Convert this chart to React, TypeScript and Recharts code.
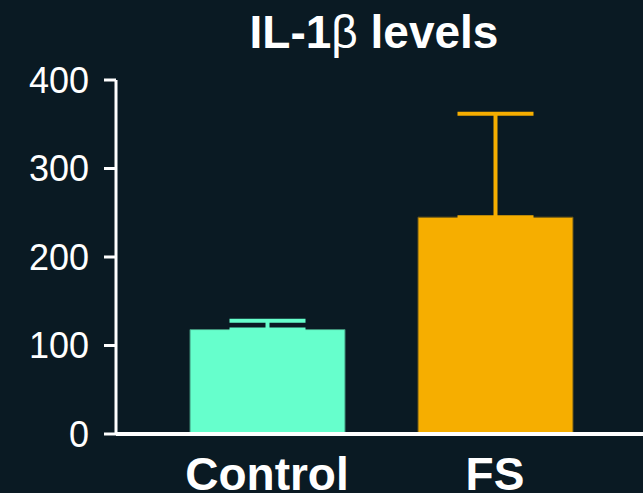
import React from 'react';
import { BarChart, Bar, XAxis, YAxis, ErrorBar, Cell } from 'recharts';

const categories = ['Control', 'FS'];
const means = [118, 245];
const sems = [10, 117];
const barColors = ['#66ffcc', '#f6ae00'];
const barOutlines = ['#3f8f78', '#6a5618'];
const yTicks = [0, 100, 200, 300, 400];
const errKeys = ['errC', 'errF'];

const data = categories.map((name, i) => {
  const row: any = { name, value: means[i] };
  row[errKeys[i]] = [0, sems[i]];
  return row;
});

const BG = '#0a1a23';
const FONT = '"Liberation Sans", Arial, Helvetica, sans-serif';

export default function App() {
  return (
    <div style={{ position: 'fixed', left: 0, top: 0, width: 643, height: 493, background: BG }}>
      <BarChart
        width={643}
        height={493}
        data={data}
        margin={{ top: 80, right: 0, bottom: 0, left: 0 }}
        style={{ fontFamily: FONT }}
      >
        <YAxis
          width={116}
          domain={[0, 400]}
          ticks={yTicks}
          allowDataOverflow
          axisLine={{ stroke: '#ffffff', strokeWidth: 3 }}
          tickLine={{ stroke: '#ffffff', strokeWidth: 3 }}
          tickSize={12}
          tickMargin={15}
          tick={{ fill: '#ffffff', fontSize: 36, fontFamily: FONT }}
        />
        <XAxis
          dataKey="name"
          height={59}
          padding={{ left: 37, right: 34 }}
          axisLine={{ stroke: '#ffffff', strokeWidth: 4 }}
          tickLine={false}
          tickSize={0}
          tickMargin={23}
          tick={{ fill: '#ffffff', fontSize: 46, fontWeight: 'bold', fontFamily: FONT }}
        />
        <Bar dataKey="value" barSize={155} isAnimationActive={false}>
          {data.map((d, i) => (
            <Cell key={d.name} fill={barColors[i]} stroke={barOutlines[i]} strokeWidth={1} />
          ))}
          {errKeys.map((k, i) => (
            <ErrorBar
              key={k}
              dataKey={k}
              direction="y"
              width={38}
              stroke={barColors[i]}
              strokeWidth={4}
              isAnimationActive={false}
            />
          ))}
        </Bar>
      </BarChart>
      <svg
        width={643}
        height={70}
        style={{ position: 'absolute', left: 0, top: 0, pointerEvents: 'none' }}
      >
        <text
          x={374}
          y={48}
          textAnchor="middle"
          fill="#ffffff"
          fontSize={46}
          fontWeight="bold"
          fontFamily={FONT}
        >
          IL-1<tspan fontWeight="normal">β</tspan> levels
        </text>
      </svg>
    </div>
  );
}
